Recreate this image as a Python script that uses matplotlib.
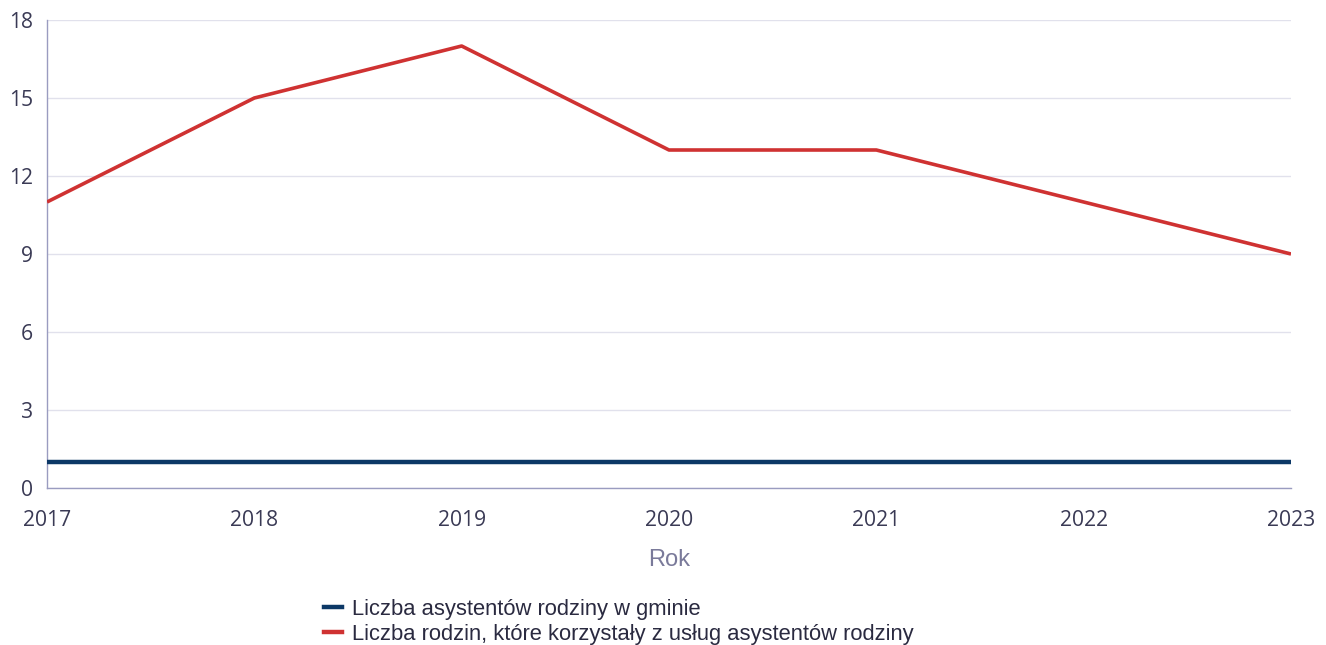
import matplotlib
matplotlib.use("Agg")
import matplotlib.pyplot as plt
from matplotlib.lines import Line2D

years = [2017, 2018, 2019, 2020, 2021, 2022, 2023]
asystenci = [1, 1, 1, 1, 1, 1, 1]
rodziny = [11, 15, 17, 13, 13, 11, 9]
yticks = [0, 3, 6, 9, 12, 15, 18]
labels = ["Liczba asystentów rodziny w gminie",
          "Liczba rodzin, które korzystały z usług asystentów rodziny"]

navy = "#0c3866"
red = "#cf3232"
tick_color = "#3a3a55"

fig = plt.figure(figsize=(13.26, 6.45), dpi=100)
ax = fig.add_axes([47/1326, 1-488/645, (1291-47)/1326, (488-20)/645])

ax.plot(years, asystenci, color=navy, lw=3.2, solid_capstyle="butt", zorder=3)
ax.plot(years, rodziny, color=red, lw=2.6, solid_capstyle="butt", zorder=3)

ax.set_xlim(2017, 2023)
ax.set_ylim(0, 18)
ax.set_yticks(yticks)
ax.set_xticks(years)
ax.grid(axis="y", color="#e1e1ec", lw=1)
ax.set_axisbelow(True)
for s in ["top", "right"]:
    ax.spines[s].set_visible(False)
for s in ["left", "bottom"]:
    ax.spines[s].set_color("#9a9cc0")
    ax.spines[s].set_linewidth(1)
ax.tick_params(axis="both", length=0, colors=tick_color, labelsize=15.2)
ax.tick_params(axis="y", pad=10)
ax.tick_params(axis="x", pad=15.5)
for t in ax.get_xticklabels() + ax.get_yticklabels():
    t.set_fontfamily("Open Sans")
ax.set_xlabel("Rok", fontsize=17, color="#7a7a9a", family="Liberation Sans", labelpad=13)

handles = [Line2D([0], [0], color=navy, lw=3.2), Line2D([0], [0], color=red, lw=3.2)]
fig.legend(handles, labels, loc="upper left", bbox_to_anchor=(313/1326, 1-588/645),
           frameon=False, prop={"family": "Liberation Sans", "size": 15.8},
           handlelength=0.82, handletextpad=0.45, labelspacing=0.19, borderpad=0,
           labelcolor="#2a2a40")

fig.savefig("out.png", dpi=100)
